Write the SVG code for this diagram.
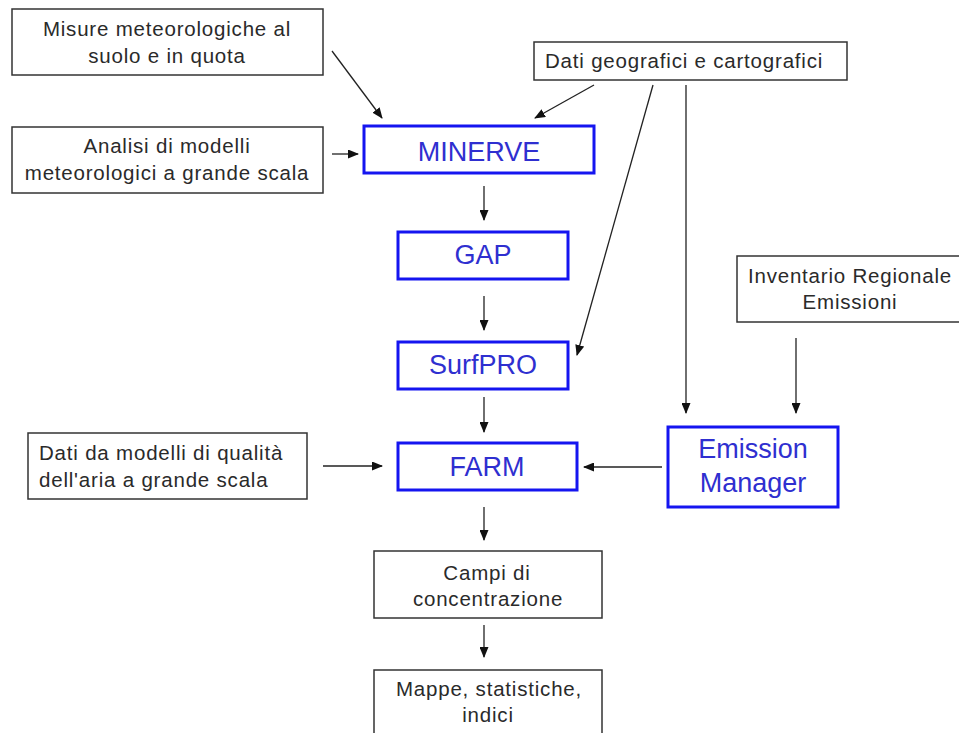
<svg xmlns="http://www.w3.org/2000/svg" width="959" height="733" viewBox="0 0 959 733">
<defs>
<style>
.bx{fill:#fff;stroke:#333;stroke-width:1.5}
.bb{fill:#fff;stroke:#1515f0;stroke-width:3}
.t{font-family:"Liberation Sans",Arial,sans-serif;font-size:20.5px;letter-spacing:0.8px;fill:#2a2a2a}
.c{text-anchor:middle}
.tb{font-family:"Liberation Sans",Arial,sans-serif;font-size:27px;fill:#2f2fd0;text-anchor:middle}
.ln{stroke:#222;stroke-width:1.3;fill:none;marker-end:url(#ah)}
</style>
<marker id="ah" markerWidth="11" markerHeight="9" refX="10" refY="4.5" orient="auto" markerUnits="userSpaceOnUse">
<path d="M0,0 L11,4.5 L0,9 z" fill="#111"/>
</marker>
</defs>
<rect width="959" height="733" fill="#fff"/>
<g id="misure"><rect class="bx" x="12" y="9" width="311" height="66"/>
<text class="t c" x="167" y="36">Misure meteorologiche al</text>
<text class="t c" x="167" y="63">suolo e in quota</text></g>
<g id="analisi"><rect class="bx" x="12" y="127" width="311" height="66"/>
<text class="t c" x="167" y="153">Analisi di modelli</text>
<text class="t c" x="167" y="180">meteorologici a grande scala</text></g>
<g id="geo"><rect class="bx" x="534" y="42" width="313" height="38"/>
<text class="t" x="545" y="68">Dati geografici e cartografici</text></g>
<g id="minerve"><rect class="bb" x="364" y="126" width="230" height="47"/>
<text class="tb" x="479" y="161">MINERVE</text></g>
<g id="gap"><rect class="bb" x="398" y="232" width="170" height="47"/>
<text class="tb" x="483" y="264">GAP</text></g>
<g id="surfpro"><rect class="bb" x="398" y="342" width="170" height="47"/>
<text class="tb" x="483" y="374">SurfPRO</text></g>
<g id="farm"><rect class="bb" x="398" y="443" width="179" height="47"/>
<text class="tb" x="487" y="476">FARM</text></g>
<g id="qualita"><rect class="bx" x="28" y="433" width="279" height="66"/>
<text class="t" x="39" y="460">Dati da modelli di qualità</text>
<text class="t" x="39" y="487">dell'aria a grande scala</text></g>
<g id="inventario"><rect class="bx" x="737" y="256" width="230" height="66"/>
<text class="t c" x="850" y="283">Inventario Regionale</text>
<text class="t c" x="850" y="309">Emissioni</text></g>
<g id="emission"><rect class="bb" x="668" y="427" width="170" height="80"/>
<text class="tb" x="753" y="458">Emission</text>
<text class="tb" x="753" y="492">Manager</text></g>
<g id="campi"><rect class="bx" x="374" y="551" width="228" height="67"/>
<text class="t c" x="487" y="580">Campi di</text>
<text class="t c" x="488" y="606">concentrazione</text></g>
<g id="mappe"><rect class="bx" x="374" y="670" width="228" height="70"/>
<text class="t c" x="489" y="696">Mappe, statistiche,</text>
<text class="t c" x="488" y="722">indici</text></g>
<g id="connectors">
<line class="ln" x1="332" y1="51" x2="382" y2="118"/>
<line class="ln" x1="594" y1="85" x2="535" y2="118"/>
<line class="ln" x1="653" y1="85" x2="577" y2="355"/>
<line class="ln" x1="686" y1="85" x2="686" y2="413"/>
<line class="ln" x1="332" y1="154" x2="358" y2="154"/>
<line class="ln" x1="484" y1="186" x2="484" y2="220"/>
<line class="ln" x1="484" y1="296" x2="484" y2="330"/>
<line class="ln" x1="484" y1="397" x2="484" y2="432"/>
<line class="ln" x1="323" y1="466" x2="382" y2="466"/>
<line class="ln" x1="662" y1="467" x2="584" y2="467"/>
<line class="ln" x1="796" y1="338" x2="796" y2="413"/>
<line class="ln" x1="484" y1="507" x2="484" y2="540"/>
<line class="ln" x1="484" y1="625" x2="484" y2="657"/>
</g>
</svg>
